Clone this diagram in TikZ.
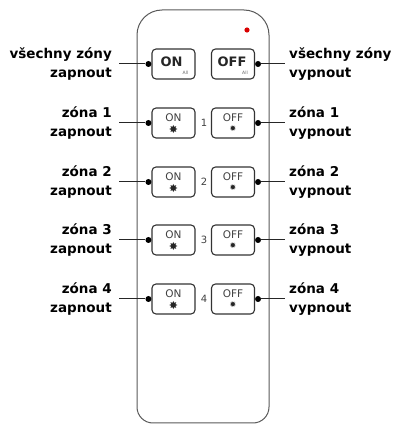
\documentclass[tikz,border=0pt]{standalone}
\usepackage{fontspec}
\setmainfont{DejaVu Sans}
\begin{document}
\begin{tikzpicture}[x=1pt,y=1pt,
  btn/.style={draw=black!80, line width=1.1pt, rounded corners=4pt, minimum width=43pt, minimum height=30pt, inner sep=0pt, fill=white},
  lab/.style={font=\fontsize{13.5}{19.5}\selectfont\bfseries, inner sep=0pt},
  conn/.style={draw=black!85, line width=1pt},
  dotn/.style={circle, fill=black, inner sep=0pt, minimum size=6pt},
  bigtxt/.style={font=\fontsize{13}{13}\selectfont\bfseries, text=black!85, inner sep=0pt},
  smtxt/.style={font=\fontsize{10.5}{10.5}\selectfont, text=black!75, inner sep=0pt},
  alltxt/.style={font=\fontsize{4.5}{4.5}\selectfont, text=black!60, inner sep=0pt},
  numtxt/.style={font=\fontsize{10}{10}\selectfont, text=black!75, inner sep=0pt},
  starbig/.style={font=\fontsize{11}{11}\selectfont, text=black!85, inner sep=0pt},
  starsm/.style={font=\fontsize{8}{8}\selectfont, text=black!85, inner sep=0pt},
  remote/.style={draw=black!65, line width=1pt}]
\useasboundingbox (0,0) rectangle (394,424);
% remote body
\draw[remote] (137,200) [rounded corners=25pt] -- (137,414) -- (269,414) -- (269,200) [rounded corners=16pt] -- (269,1) -- (137,1) -- cycle;
\fill[red!85!black] (247,394) circle (2.6);

% all row
\node[btn] (on0) at (173.5,360) {};
\node[btn] (off0) at (233,360) {};
\node[bigtxt] at ([xshift=-2pt,yshift=2pt]on0.center) {ON};
\node[alltxt] at ([xshift=12pt,yshift=-9pt]on0.center) {All};
\node[bigtxt] at ([xshift=-1pt,yshift=2pt]off0.center) {OFF};
\node[alltxt] at ([xshift=12pt,yshift=-9pt]off0.center) {All};
\node[lab, anchor=east, align=right] (l0) at (112,360) {všechny zóny\\zapnout};
\node[lab, anchor=west, align=left] (r0) at (289,360) {všechny zóny\\vypnout};
\node[dotn] (ld0) at ([xshift=-3pt]on0.west) {};
\node[dotn] (rd0) at ([xshift=3pt]off0.east) {};
\coordinate (lc0) at (119,360);
\coordinate (rc0) at (285,360);
\draw[conn] (lc0) -- (ld0);
\draw[conn] (rd0) -- (rc0);

% zone rows
\foreach \i/\y in {1/301,2/242,3/184,4/125}{
  \node[btn] (on\i) at (173.5,\y) {};
  \node[btn] (off\i) at (233,\y) {};
  \node[smtxt] at ([yshift=5pt]on\i.center) {ON};
  \node[starbig] at ([yshift=-6pt]on\i.center) {✸};
  \node[smtxt] at ([yshift=5pt]off\i.center) {OFF};
  \node[starsm] at ([yshift=-6pt]off\i.center) {✹};
  \node[numtxt] (n\i) at (204,\y) {\i};
  \node[lab, anchor=east, align=right] (l\i) at (112,\y) {zóna \i\\zapnout};
  \node[lab, anchor=west, align=left] (r\i) at (289,\y) {zóna \i\\vypnout};
  \node[dotn] (ld\i) at ([xshift=-3pt]on\i.west) {};
  \node[dotn] (rd\i) at ([xshift=3pt]off\i.east) {};
  \coordinate (lc\i) at (119,\y);
  \coordinate (rc\i) at (285,\y);
  \draw[conn] (lc\i) -- (ld\i);
  \draw[conn] (rd\i) -- (rc\i);
}
\end{tikzpicture}
\end{document}
